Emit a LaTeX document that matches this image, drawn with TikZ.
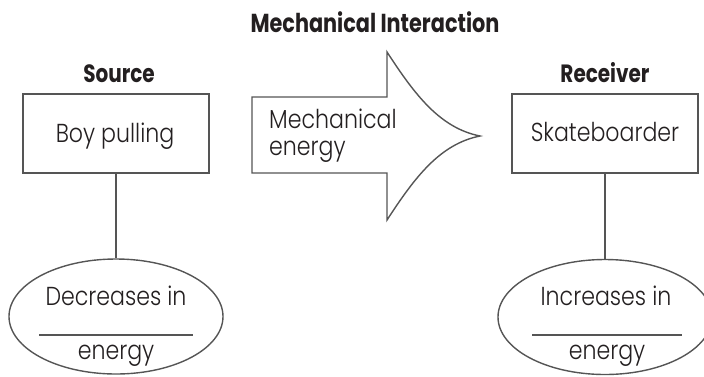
\documentclass[tikz,border=0pt]{standalone}
\usepackage{fontspec}
\setmainfont{Poppins}
\IfFontExistsTF{Poppins Light}
  {\newfontfamily\bodyfont{Poppins Light}[FakeStretch=0.85]}
  {\newfontfamily\bodyfont{Poppins}[FakeStretch=0.85]}
\newfontfamily\headfont{Poppins}[FakeStretch=0.8]
\usetikzlibrary{shapes.geometric}
\definecolor{ink}{HTML}{231F20}
\definecolor{edge}{HTML}{555555}
\tikzset{
  box/.style={draw=edge, line width=1.4pt, minimum width=186pt, minimum height=79pt, inner sep=0pt},
  oval/.style={draw=edge, line width=1.4pt, ellipse, minimum width=214pt, minimum height=115pt, inner sep=0pt},
  body/.style={text=ink, font=\bodyfont\fontsize{26}{30}\selectfont, inner sep=0pt, anchor=base},
  head/.style={text=ink, font=\headfont\bfseries\fontsize{25}{28}\selectfont, inner sep=0pt, anchor=base},
  link/.style={draw=edge, line width=1.4pt}
}
\begin{document}
\begin{tikzpicture}[x=1pt, y=-1pt]
\useasboundingbox (0,0) rectangle (704,376);

% headings
\node[head, font=\headfont\bfseries\fontsize{26}{30}\selectfont] (title) at (375,32) {Mechanical Interaction};
\node[head] (srclabel) at (119,82) {Source};
\node[head] (rcvlabel) at (605,82) {Receiver};

% source and receiver boxes
\node[box] (src) at (116,133.5) {};
\node[box] (rcv) at (605,133.5) {};
\node[body] (srctext) at (115,142) {Boy pulling};
\node[body] (rcvtext) at (605,141) {Skateboarder};

% energy ovals
\node[oval] (dec) at (116,316.5) {};
\node[oval] (inc) at (605,317) {};
\node[body] (dectext) at (116,305) {Decreases in};
\node[body] (inctext) at (606,305) {Increases in};
\node[body] (decunit) at (116,359) {energy};
\node[body] (incunit) at (607,359) {energy};
\coordinate (decblankL) at (39,335);
\coordinate (decblankR) at (193,335);
\coordinate (incblankL) at (532,335);
\coordinate (incblankR) at (682,335);
\draw[link] (decblankL) -- (decblankR);
\draw[link] (incblankL) -- (incblankR);

% connectors
\draw[link] (src.south) -- (dec.north);
\draw[link] (rcv.south) -- (inc.north);

% block arrow for the interaction
\draw[link, line join=miter, fill=white]
  (252,97) -- (387,97) -- (387,52)
  .. controls (415,95) and (440,128) .. (480,136)
  .. controls (440,144) and (415,177) .. (387,220)
  -- (387,173) -- (252,173) -- cycle;
\node[body, anchor=base west] (arrowtext1) at (269,128) {Mechanical};
\node[body, anchor=base west] (arrowtext2) at (269,155) {energy};
\end{tikzpicture}
\end{document}
